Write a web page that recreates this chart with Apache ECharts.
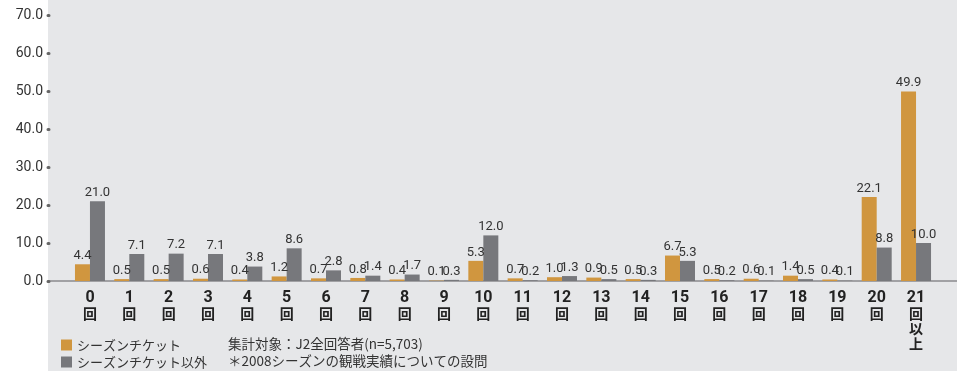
<!DOCTYPE html>
<html>
<head>
<meta charset="utf-8">
<script src="https://cdn.jsdelivr.net/npm/echarts@6/dist/echarts.min.js"></script>
<style>
  html, body { margin: 0; padding: 0; background: #fff; }
  #chart { width: 957px; height: 371px; }
</style>
</head>
<body>
<div id="chart"></div>
<script>
// 観戦回数カテゴリ
const categories = ['0回', '1回', '2回', '3回', '4回', '5回', '6回', '7回', '8回', '9回', '10回',
  '11回', '12回', '13回', '14回', '15回', '16回', '17回', '18回', '19回', '20回', '21回以上']
const seriesNames = ['シーズンチケット', 'シーズンチケット以外']
const seasonTicket = [4.4, 0.5, 0.5, 0.6, 0.4, 1.2, 0.7, 0.8, 0.4, 0.1, 5.3,
  0.7, 1.0, 0.9, 0.5, 6.7, 0.5, 0.6, 1.4, 0.4, 22.1, 49.9]
const otherTicket = [21.0, 7.1, 7.2, 7.1, 3.8, 8.6, 2.8, 1.4, 1.7, 0.3, 12.0,
  0.2, 1.3, 0.5, 0.3, 5.3, 0.2, 0.1, 0.5, 0.1, 8.8, 10.0]
const notes = ['集計対象：J2全回答者(n=5,703)', '＊2008シーズンの観戦実績についての設問']

const latin = 'Roboto, "Liberation Sans", sans-serif'
const cjk = '"Noto Sans CJK JP", sans-serif'

const chart = echarts.init(document.getElementById('chart'))

// ラベル: 数字 + 文字を縦に並べる
function xLabel(v) {
  const m = v.match(/^(\d+)(.*)$/)
  let s = '{n|' + m[1] + '}'
  m[2].split('').forEach(c => { s += '\n{k|' + c + '}' })
  return s
}

function barLabel() {
  return {
    show: true,
    position: 'top',
    distance: 2,
    fontSize: 13,
    color: '#333',
    fontFamily: latin,
    formatter: p => p.value.toFixed(1)
  }
}

const option = {
  animation: false,
  color: ['#d0963f', '#77787c'],
  graphic: [
    { type: 'rect', left: 48, top: 0, z: -10, shape: { width: 909, height: 371 }, style: { fill: '#e6e7e9' } },
    { type: 'text', left: 228, top: 337, style: { text: notes[0], fontSize: 13.5, fill: '#333', fontFamily: cjk } },
    { type: 'text', left: 228, top: 354, style: { text: notes[1], fontSize: 13.5, fill: '#333', fontFamily: cjk } }
  ],
  legend: {
    data: seriesNames,
    orient: 'vertical',
    left: 61,
    top: 338,
    padding: 0,
    icon: 'rect',
    itemWidth: 11,
    itemHeight: 11,
    itemGap: 3,
    textStyle: { fontSize: 13, lineHeight: 14, color: '#333', fontFamily: cjk }
  },
  grid: [
    { left: 48, right: 0, top: 15, bottom: 90 },
    { left: 70.3, right: 21.3, top: 15, bottom: 90 }
  ],
  xAxis: [
    {
      gridIndex: 0,
      type: 'category',
      data: [''],
      axisLine: { show: true, lineStyle: { color: '#8a8b8d', width: 1.5 } },
      axisTick: { show: false },
      axisLabel: { show: false }
    },
    {
      gridIndex: 1,
      type: 'category',
      data: categories,
      axisLine: { show: false },
      axisTick: { show: false },
      axisLabel: {
        interval: 0,
        margin: 9,
        formatter: xLabel,
        rich: {
          n: { fontSize: 16, fontWeight: 'bold', color: '#222', fontFamily: latin, lineHeight: 16 },
          k: { fontSize: 14, fontWeight: 'bold', color: '#222', fontFamily: cjk, lineHeight: 15 }
        }
      }
    }
  ],
  yAxis: [
    {
      gridIndex: 0,
      type: 'value',
      min: 0,
      max: 70,
      interval: 10,
      axisLine: { show: false },
      axisTick: { show: true, inside: true, length: 1, lineStyle: { color: '#666', width: 3, cap: 'round' } },
      splitLine: { show: false },
      axisLabel: {
        margin: 5,
        fontSize: 14,
        color: '#333',
        fontFamily: latin,
        formatter: v => v.toFixed(1)
      }
    },
    {
      gridIndex: 1,
      type: 'value',
      min: 0,
      max: 70,
      interval: 10,
      show: false
    }
  ],
  series: [
    {
      name: seriesNames[0],
      type: 'bar',
      xAxisIndex: 1,
      yAxisIndex: 1,
      barWidth: 15,
      barGap: '0%',
      data: seasonTicket,
      label: barLabel()
    },
    {
      name: seriesNames[1],
      type: 'bar',
      xAxisIndex: 1,
      yAxisIndex: 1,
      barWidth: 15,
      barGap: '0%',
      data: otherTicket,
      label: barLabel()
    }
  ]
}

chart.setOption(option)
</script>
</body>
</html>
